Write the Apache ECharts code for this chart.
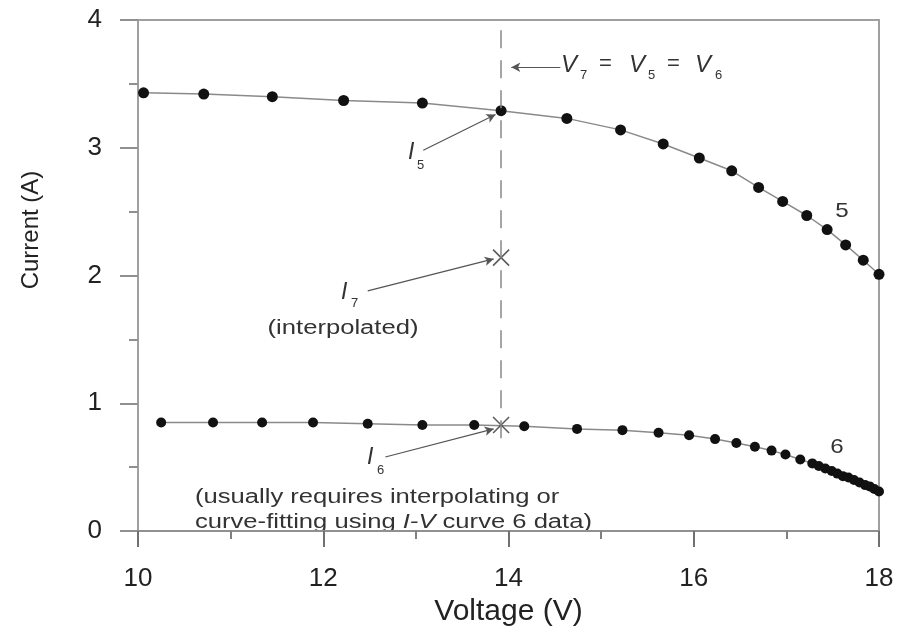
<!DOCTYPE html>
<html><head><meta charset="utf-8">
<script src="https://cdn.jsdelivr.net/npm/echarts@6/dist/echarts.min.js"></script>
<style>html,body{margin:0;padding:0;background:#fff}#c{width:913px;height:632px}</style>
</head><body><div id="c"></div>
<script>
// ---- data ----
const curve5V = [10.06,10.71,11.45,12.22,13.07,13.92,14.63,15.21,15.67,16.06,16.41,16.70,16.96,17.22,17.44,17.64,17.83,18.00];
const curve5I = [3.43,3.42,3.40,3.37,3.35,3.29,3.23,3.14,3.03,2.92,2.82,2.69,2.58,2.47,2.36,2.24,2.12,2.01];
const curve6V = [10.25,10.81,11.34,11.89,12.48,13.07,13.63,14.17,14.74,15.23,15.62,15.95,16.23,16.46,16.66,16.84,16.99,17.15,17.28,17.35,17.42,17.49,17.55,17.61,17.67,17.73,17.79,17.85,17.90,17.95,18.00];
const curve6I = [0.85,0.85,0.85,0.85,0.84,0.83,0.83,0.82,0.80,0.79,0.77,0.75,0.72,0.69,0.66,0.63,0.60,0.56,0.53,0.51,0.49,0.47,0.45,0.43,0.42,0.40,0.38,0.36,0.35,0.33,0.31];
const vCommon = 13.92;           // V7 = V5 = V6
const interpPoints = [[13.92, 2.14], [13.92, 0.83]]; // I7, I6
const xTickValues = [10, 12, 14, 16, 18];
const yTickValues = [0, 1, 2, 3, 4];

const FONT = 'Liberation Sans, Arial, sans-serif';
const pairs = (xs, ys) => xs.map((x, i) => [x, ys[i]]);

const chart = echarts.init(document.getElementById('c'));

function txt(text, x, y, size, opts) {
  opts = opts || {};
  return {
    type: 'text', x: x, y: y, silent: true,
    scaleX: opts.sx || 1,
    rotation: opts.rot || 0,
    style: {
      text: text, fill: opts.color || '#333',
      font: (opts.italic ? 'italic ' : '') + size + 'px ' + FONT,
      textAlign: opts.align || 'left', textVerticalAlign: 'middle'
    }
  };
}

const graphics = [
  // y axis title
  txt('Current (A)', 31, 230, 24, {rot: Math.PI / 2, align: 'center', color: '#222'}),
  // V7 = V5 = V6
  txt('V', 561, 65, 24, {italic: true}),
  txt('7', 580, 75, 13),
  txt('=', 599, 64, 22),
  txt('V', 629, 65, 24, {italic: true}),
  txt('5', 648, 75, 13),
  txt('=', 667, 64, 22),
  txt('V', 695, 65, 24, {italic: true}),
  txt('6', 715, 75, 13),
  // I5
  txt('I', 408, 153, 23, {italic: true}),
  txt('5', 417, 165, 13),
  // I7
  txt('I', 341, 293, 23, {italic: true}),
  txt('7', 351, 303, 13),
  txt('(interpolated)', 343, 328, 20, {align: 'center', sx: 1.28}),
  // I6
  txt('I', 367, 458, 23, {italic: true}),
  txt('6', 377, 470, 13),
  // footnote
  txt('(usually requires interpolating or', 195, 497, 20, {sx: 1.28}),
  {
    type: 'text', x: 195, y: 522, silent: true, scaleX: 1.28,
    style: {
      rich: {
        a: {font: '20px ' + FONT, fill: '#333'},
        i: {font: 'italic 20px ' + FONT, fill: '#333'}
      },
      text: '{a|curve-fitting using }{i|I-V}{a| curve 6 data)}',
      textVerticalAlign: 'middle'
    }
  },
  // curve labels
  txt('5', 842, 211, 21, {align: 'center', sx: 1.15}),
  txt('6', 837, 447, 21, {align: 'center', sx: 1.15})
];

const arrowStyle = {color: '#555', width: 1.2, type: 'solid'};
const option = {
  animation: false,
  backgroundColor: '#fff',
  grid: {left: 138, right: 34, top: 20, bottom: 98, show: true, borderColor: '#a0a0a0', borderWidth: 2},
  xAxis: {
    type: 'value', min: 10, max: 18, interval: 2,
    axisLine: {lineStyle: {color: '#909090', width: 2}},
    axisTick: {length: 16, lineStyle: {color: '#707070', width: 2}},
    minorTick: {show: true, splitNumber: 2, length: 8, lineStyle: {color: '#808080', width: 2}},
    splitLine: {show: false},
    axisLabel: {fontSize: 26, color: '#222', margin: 35, fontFamily: FONT,
      formatter: v => xTickValues.includes(v) ? String(v) : ''},
    name: 'Voltage (V)', nameLocation: 'middle', nameGap: 64,
    nameTextStyle: {fontSize: 30, color: '#222', fontFamily: FONT}
  },
  yAxis: {
    type: 'value', min: 0, max: 4, interval: 1,
    axisLine: {onZero: false, lineStyle: {color: '#a0a0a0', width: 2}},
    axisTick: {length: 18, lineStyle: {color: '#909090', width: 2}},
    minorTick: {show: true, splitNumber: 2, length: 9, lineStyle: {color: '#909090', width: 2}},
    splitLine: {show: false},
    axisLabel: {fontSize: 26, color: '#222', margin: 36, fontFamily: FONT,
      formatter: v => yTickValues.includes(v) ? String(v) : ''}
  },
  series: [
    {
      type: 'line', name: '5', data: pairs(curve5V, curve5I),
      symbol: 'circle', symbolSize: 11, showAllSymbol: true,
      lineStyle: {color: '#8a8a8a', width: 1.5},
      itemStyle: {color: '#111'}, z: 3
    },
    {
      type: 'line', name: '6', data: pairs(curve6V, curve6I),
      symbol: 'circle', symbolSize: 10, showAllSymbol: true,
      lineStyle: {color: '#8a8a8a', width: 1.5},
      itemStyle: {color: '#111'}, z: 3
    },
    {
      type: 'scatter', name: 'interp', data: interpPoints,
      symbol: 'path://M0,0L10,10M10,0L0,10', symbolSize: 16,
      itemStyle: {color: 'none', borderColor: '#333', borderWidth: 1.6}, z: 4,
      markLine: {
        silent: true, symbol: ['none', 'none'], label: {show: false},
        lineStyle: {color: '#888', width: 1.5, type: [18, 12]},
        data: [[{coord: [vCommon, 3.92]}, {coord: [vCommon, 0.64]}]]
      }
    },
    {
      type: 'line', name: 'arrows', data: [], silent: true,
      markLine: {
        silent: true, symbol: ['none', 'arrow'], symbolSize: [7, 9], label: {show: false},
        lineStyle: arrowStyle,
        data: [
          [{coord: [14.56, 3.63]}, {coord: [14.03, 3.63]}],
          [{coord: [13.08, 2.98]}, {coord: [13.86, 3.26]}],
          [{coord: [12.48, 1.88]}, {coord: [13.84, 2.13]}],
          [{coord: [12.67, 0.58]}, {coord: [13.84, 0.80]}]
        ]
      }
    }
  ],
  graphic: graphics
};
chart.setOption(option);
</script>
</body></html>
